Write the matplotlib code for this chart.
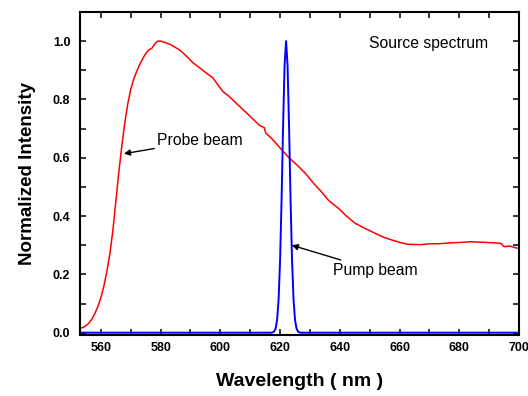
import matplotlib
matplotlib.use("Agg")
import matplotlib.pyplot as plt
from matplotlib.ticker import MultipleLocator

plt.rcParams['font.family'] = ['Liberation Sans', 'DejaVu Sans']

# probe beam (red)
probe_nm = [553, 554, 555, 556, 557, 558, 559, 560, 561, 562, 563, 564, 565,
            566, 567, 568, 569, 570, 571, 572, 573, 574, 575, 576, 577, 578,
            579, 580, 581, 583, 585, 586.3, 588.5, 590.8, 593, 595, 597.4,
            598.5, 599.5, 601, 603, 605, 607.4, 610, 613, 614.7, 615.2, 617,
            619, 621, 623, 626, 628.6, 631, 633.5, 636.3, 639.7, 642, 645,
            648, 652, 655, 658, 661, 663, 667, 670, 673, 677, 681, 684, 688,
            692, 694, 695, 697, 699, 700]
probe_int = [0.015, 0.018, 0.024, 0.033, 0.047, 0.066, 0.09, 0.12, 0.16, 0.21,
             0.27, 0.35, 0.45, 0.55, 0.64, 0.72, 0.785, 0.835, 0.87, 0.897,
             0.92, 0.94, 0.957, 0.97, 0.975, 0.99, 1.0, 1.0, 0.997, 0.99,
             0.978, 0.97, 0.95, 0.926, 0.909, 0.893, 0.875, 0.86, 0.845, 0.826,
             0.81, 0.79, 0.767, 0.742, 0.712, 0.703, 0.685, 0.668, 0.645,
             0.622, 0.60, 0.572, 0.545, 0.515, 0.487, 0.453, 0.425, 0.402,
             0.376, 0.36, 0.34, 0.326, 0.316, 0.307, 0.303, 0.302, 0.305,
             0.305, 0.308, 0.31, 0.312, 0.31, 0.308, 0.306, 0.295, 0.297,
             0.291, 0.288]

# pump beam (blue)
pump_nm = [553, 617, 617.5, 618, 618.5, 619, 619.5, 620, 620.5, 621, 621.5,
           622, 622.5, 623, 623.5, 624, 624.5, 625, 625.5, 626, 626.5, 627, 700]
pump_int = [0.0, 0.0, 0.001, 0.004, 0.014, 0.044, 0.114, 0.249, 0.458, 0.707,
            0.917, 1.0, 0.917, 0.707, 0.458, 0.249, 0.114, 0.044, 0.014,
            0.004, 0.001, 0.0, 0.0]

fig = plt.figure(figsize=(5.28, 3.96), dpi=100)
ax = fig.add_axes([0.1515, 0.154, 0.8315, 0.8157])

ax.plot(probe_nm, probe_int, color='#ff0000', lw=1.1)
ax.plot(pump_nm, pump_int, color='#0000ff', lw=1.4)

ax.set_xlim(553, 700)
ax.set_ylim(-0.008, 1.1)
ax.xaxis.set_major_locator(MultipleLocator(20))
ax.xaxis.set_minor_locator(MultipleLocator(10))
ax.yaxis.set_major_locator(MultipleLocator(0.2))
ax.yaxis.set_minor_locator(MultipleLocator(0.1))
ax.yaxis.set_major_formatter(plt.FuncFormatter(lambda v, p: f"{v:.1f}"))

for s in ax.spines.values():
    s.set_linewidth(1.5)
ax.tick_params(which='both', direction='in', top=True, right=True,
               length=4.5, width=1.1, labelsize=9)
ax.tick_params(axis='x', pad=5)
ax.tick_params(axis='y', pad=7)
for lab in ax.get_xticklabels() + ax.get_yticklabels():
    lab.set_fontweight('bold')

ax.set_xlabel('Wavelength ( nm )', fontsize=14, fontweight='bold', labelpad=14)
ax.set_ylabel('Normalized Intensity', fontsize=13.5, fontweight='bold', labelpad=12)

ax.text(649.9, 0.991, 'Source spectrum', fontsize=11.3, va='center', ha='left')

arrow = dict(arrowstyle='-|>', color='k', lw=1, mutation_scale=9, shrinkA=0, shrinkB=0)
ax.annotate('Probe beam', xy=(567.7, 0.614), xytext=(578.8, 0.658),
            fontsize=11.3, va='center', ha='left', arrowprops=arrow)
ax.annotate('Pump beam', xy=(623.9, 0.30), xytext=(637.6, 0.214),
            fontsize=11.3, va='center', ha='left', arrowprops=arrow)

fig.savefig('out.png', dpi=100)
